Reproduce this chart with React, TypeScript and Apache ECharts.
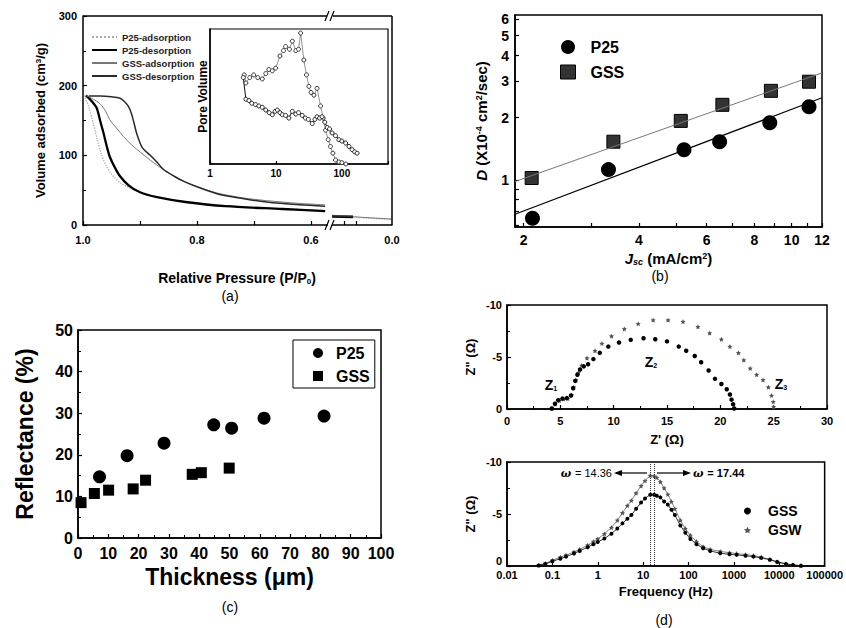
import { useEffect, useRef } from 'react';
import * as echarts from 'echarts';

const FONT = '"Liberation Sans", Arial, Helvetica, sans-serif';

// ---------- (a) N2 isotherms: [P/P0, volume] ----------
const P25_ADS = [[0.998,186],[0.99,170],[0.982,146],[0.975,123],[0.968,102],[0.96,86],[0.95,73],[0.935,61],[0.915,52],[0.89,44],[0.85,37],[0.8,31],[0.72,26],[0.65,23],[0.575,21]];
const P25_DES = [[0.995,186],[0.985,178],[0.976,168],[0.97,150],[0.964,132],[0.958,112],[0.953,98],[0.945,84],[0.935,70],[0.92,57],[0.9,47],[0.87,40],[0.82,33],[0.75,27],[0.65,23],[0.575,20]];
const GSS_ADS = [[0.995,186],[0.985,182],[0.97,174],[0.96,163],[0.953,151],[0.94,138],[0.929,127],[0.912,113],[0.9,105],[0.882,93],[0.865,83],[0.853,76],[0.824,63],[0.8,55],[0.765,46],[0.72,39],[0.678,35],[0.62,31],[0.575,29]];
const GSS_DES = [[0.99,185],[0.97,185],[0.95,184],[0.935,182],[0.927,177],[0.92,170],[0.915,160],[0.91,145],[0.906,132],[0.9,118],[0.895,110],[0.882,100],[0.87,90],[0.859,80],[0.84,70],[0.824,63],[0.8,55],[0.765,45],[0.72,38],[0.678,33],[0.62,29],[0.575,27]];
// after the axis break
const P25_ADS_LOW = [[0.1,13],[0.05,10.5],[0,8]];
const P25_DES_LOW = [[0.1,12],[0.065,11.5]];
const GSS_ADS_LOW = [[0.1,14],[0.05,11],[0,8.5]];
const GSS_DES_LOW = [[0.1,13],[0.065,12.5]];
// inset: pore size distribution [pore size, relative volume]
const PSD_A = [[3.3,0.66],[3.5,0.6],[4.0,0.64],[4.6,0.66],[5.3,0.64],[6.2,0.63],[7,0.67],[7.8,0.7],[8.8,0.69],[9.9,0.71],[11.5,0.8],[13,0.84],[14,0.87],[16,0.85],[17.7,0.91],[20,0.84],[22,0.85],[23.7,0.97],[26.5,0.77],[29,0.66],[31.6,0.575],[34,0.53],[37.7,0.51],[42,0.56],[47.5,0.43],[52,0.34],[56.6,0.25],[62,0.18],[67,0.13],[73,0.08],[80,0.03],[90,0.015],[100,0.01],[115,0.0]];
const PSD_B = [[3.2,0.64],[3.5,0.48],[3.9,0.47],[4.3,0.45],[4.9,0.44],[5.5,0.43],[6.2,0.42],[7,0.4],[7.9,0.38],[8.8,0.365],[9.7,0.39],[10.5,0.4],[11.5,0.38],[12.5,0.365],[14,0.36],[15.7,0.34],[17.7,0.39],[20,0.37],[22,0.38],[25,0.36],[28,0.34],[31,0.33],[35.5,0.3],[39,0.33],[42,0.35],[46,0.34],[50,0.35],[55,0.31],[60,0.27],[65,0.26],[71,0.23],[80,0.21],[90,0.18],[100,0.17],[114,0.155],[128,0.13],[143,0.106],[156,0.09],[170,0.08]];
const INSET_X_LABELS = [1, 10, 100];

// ---------- (b) diffusion coefficient vs Jsc ----------
const B_J_P25 = [2.11, 3.33, 5.24, 6.49, 8.77, 11.1];
const B_D_P25 = [0.65, 1.12, 1.40, 1.53, 1.89, 2.26];
const B_J_GSS = [2.1, 3.43, 5.14, 6.6, 8.83, 11.1];
const B_D_GSS = [1.02, 1.53, 1.93, 2.31, 2.70, 2.99];
const B_FIT_P25 = [[1.9, 0.68], [12, 2.5]];
const B_FIT_GSS = [[1.9, 0.98], [12, 3.3]];
const B_X_LABELS = [2, 4, 6, 8, 10, 12];
const B_Y_LABELS = [1, 2, 3, 4, 5, 6];

// ---------- (c) reflectance vs thickness ----------
const C_T_P25 = [7.1, 16.2, 28.4, 44.8, 50.7, 61.4, 81.2];
const C_R_P25 = [14.7, 19.8, 22.8, 27.2, 26.4, 28.8, 29.3];
const C_T_GSS = [1, 5.4, 10.1, 18.2, 22.3, 37.7, 40.7, 49.9];
const C_R_GSS = [8.5, 10.7, 11.5, 11.8, 13.9, 15.3, 15.7, 16.8];

// ---------- (d) impedance ----------
const NYQ_GSS = [[4.2,-0.05],[4.5,-0.5],[4.8,-0.85],[5.2,-1.0],[5.6,-1.05],[6.0,-1.3],[6.2,-2.0],[6.4,-2.7],[6.6,-3.3],[6.85,-3.8],[7.2,-4.1],[7.6,-4.3],[8.1,-4.8],[8.7,-5.4],[9.5,-6.0],[10.5,-6.4],[11.6,-6.65],[12.8,-6.8],[13.9,-6.7],[15,-6.5],[16.1,-6.0],[16.8,-5.6],[17.6,-5.1],[18.2,-4.5],[18.9,-3.7],[19.5,-2.9],[20.1,-2.4],[20.6,-1.9],[20.9,-1.4],[21.05,-0.9],[21.2,-0.45],[21.3,-0.05]];
const NYQ_GSW = [[4.2,-0.05],[4.5,-0.45],[4.9,-0.8],[5.3,-0.95],[5.7,-1.0],[6.05,-1.35],[6.25,-2.1],[6.45,-2.8],[6.7,-3.5],[7.0,-4.2],[7.5,-4.9],[8.25,-5.6],[8.9,-6.3],[9.8,-7.0],[11.0,-7.7],[12.3,-8.2],[13.7,-8.55],[15.1,-8.55],[16.5,-8.4],[17.9,-7.9],[19.0,-7.3],[20.1,-6.7],[20.9,-6.0],[21.7,-5.4],[22.2,-4.7],[22.8,-3.9],[23.4,-3.3],[24.0,-2.8],[24.5,-2.1],[24.8,-1.3],[24.96,-0.7],[25.0,-0.2]];
const FREQ = [0.05,0.07,0.1,0.15,0.2,0.3,0.4,0.6,0.8,1,1.4,2,2.7,3.5,4.5,5.5,7,9,11,14.36,17.44,20,24,29,35,42,50,66,85,110,150,210,300,500,800,1150,1800,2700,4000,6200,9000,14000,20000,30000];
const BODE_GSS = [-0.05,-0.2,-0.45,-0.7,-0.9,-1.2,-1.45,-1.8,-2.1,-2.3,-2.65,-3.1,-3.6,-4.1,-4.55,-4.9,-5.5,-6.1,-6.5,-6.85,-6.85,-6.75,-6.6,-6.2,-5.9,-5.4,-4.9,-3.9,-3.2,-2.6,-2.1,-1.7,-1.45,-1.23,-1.12,-1.07,-0.98,-0.9,-0.78,-0.6,-0.38,-0.2,-0.1,-0.03];
const BODE_GSW = [-0.08,-0.25,-0.55,-0.85,-1.05,-1.35,-1.6,-2.0,-2.35,-2.6,-3.1,-3.7,-4.4,-5.1,-5.8,-6.3,-7.0,-7.7,-8.2,-8.7,-8.65,-8.5,-8.1,-7.5,-6.9,-6.2,-5.5,-4.4,-3.6,-2.95,-2.35,-1.86,-1.6,-1.4,-1.28,-1.2,-1.1,-1.0,-0.85,-0.65,-0.42,-0.2,-0.1,-0.03];
const PEAK_FREQ = [14.36, 17.44];

const STAR = 'path://M0,-10L2.9,-4L9.5,-3.1L4.7,1.5L5.9,8.1L0,5L-5.9,8.1L-4.7,1.5L-9.5,-3.1L-2.9,-4Z';

function ax(o: any) {
  const base: any = {
    axisLine: { show: true, onZero: false, lineStyle: { color: '#000', width: 1.5 } },
    axisTick: { show: true, inside: true, length: 4, lineStyle: { color: '#000', width: 1.2 } },
    axisLabel: { color: '#000', fontFamily: FONT, fontWeight: 'bold', fontSize: 11 },
    splitLine: { show: false },
    nameLocation: 'middle',
    nameTextStyle: { color: '#000', fontFamily: FONT, fontWeight: 'bold', fontSize: 13 },
  };
  const r: any = { ...base, ...o };
  for (const k of ['axisLine', 'axisTick', 'axisLabel', 'nameTextStyle']) {
    if (o[k]) r[k] = { ...base[k], ...o[k] };
  }
  return r;
}

const rt = (size: number) => ({ fontSize: size, fontWeight: 'bold', fontFamily: FONT, color: '#000' });
const supS = (size: number) => ({ fontSize: size, fontWeight: 'bold', fontFamily: FONT, color: '#000', verticalAlign: 'top' });
const subS = (size: number) => ({ fontSize: size, fontWeight: 'bold', fontFamily: FONT, color: '#000', verticalAlign: 'bottom' });

const zip = (a: number[], b: number[]) => a.map((v, i) => [v, b[i]]);

const gridBorder = { show: true, borderColor: '#000', borderWidth: 1.5, backgroundColor: 'transparent' };

function txt(x: number, y: number, text: string, extra: any = {}) {
  return {
    type: 'text', x, y, z: 100,
    style: {
      text, fill: '#000', fontFamily: FONT, fontSize: 14,
      align: 'center', verticalAlign: 'middle', textAlign: 'center', textVerticalAlign: 'middle',
      ...extra,
    },
  };
}
function ln(x1: number, y1: number, x2: number, y2: number, w = 1.5) {
  return { type: 'line', z: 100, shape: { x1, y1, x2, y2 }, style: { stroke: '#000', lineWidth: w } };
}

const bodeY = () => ax({ gridIndex: 6, type: 'value', min: -10, max: 0, interval: 5, inverse: true,
  minorTick: { show: true, splitNumber: 2, length: 3 },
  axisLabel: { margin: 5, formatter: (v: number) => (v === 0 ? '{lo|0}' : String(v)),
    rich: { lo: { ...rt(11), padding: [0, 0, 10, 0] } } },
  name: 'Z" (Ω)', nameGap: 30 });

const option: any = {
  animation: false,
  backgroundColor: '#fff',
  grid: [
    { left: 83, top: 16, width: 245, height: 209 },
    { left: 332, top: 16, width: 60, height: 209 },
    { left: 210, top: 29, width: 178, height: 135, show: true, borderColor: '#000', borderWidth: 1.2, backgroundColor: '#fff' },
    { left: 515, top: 15, width: 307, height: 212, ...gridBorder },
    { left: 78, top: 330, width: 303, height: 208, ...gridBorder },
    { left: 507, top: 305, width: 320, height: 104, ...gridBorder },
    { left: 507, top: 462, width: 320, height: 104, ...gridBorder },
  ],
  xAxis: [
    ax({ gridIndex: 0, type: 'value', min: 0.57, max: 1.0, inverse: true,
      axisLabel: { customValues: [1.0, 0.8, 0.6], formatter: (v: number) => v.toFixed(1), margin: 9 },
      axisTick: { customValues: [1.0, 0.9, 0.8, 0.7, 0.6] } }),
    ax({ gridIndex: 1, type: 'value', min: 0, max: 0.1, inverse: true,
      axisLabel: { customValues: [0], formatter: () => '0.0', margin: 9 },
      axisTick: { customValues: [0.08, 0.06] } }),
    ax({ gridIndex: 2, type: 'log', logBase: 10, min: 1, max: 500,
      axisLabel: { customValues: INSET_X_LABELS, fontSize: 10, margin: 4 }, axisTick: { length: 3 } }),
    ax({ gridIndex: 3, type: 'log', logBase: 10, min: 1.9, max: 12,
      axisLabel: { customValues: B_X_LABELS, fontSize: 14, margin: 6 },
      axisTick: { customValues: [2, 3, 4, 5, 6, 7, 8, 9, 10, 11, 12] },
      name: '{i|J}{sub|sc}{t| (mA/cm}{sup|2}{t|)}', nameGap: 24,
      nameTextStyle: { rich: { t: rt(15), i: { ...rt(15), fontStyle: 'italic' }, sub: { ...subS(9), fontStyle: 'italic' }, sup: supS(9) } } }),
    ax({ gridIndex: 4, type: 'value', min: 0, max: 100, interval: 10,
      minorTick: { show: true, splitNumber: 2, length: 3 },
      axisLabel: { fontSize: 16, margin: 7 },
      name: 'Thickness (μm)', nameGap: 27, nameTextStyle: { fontSize: 23 } }),
    ax({ gridIndex: 5, type: 'value', min: 0, max: 30, interval: 5,
      minorTick: { show: true, splitNumber: 2, length: 3 },
      axisLabel: { margin: 6 },
      name: "Z' (Ω)", nameGap: 24 }),
    ax({ gridIndex: 6, type: 'log', logBase: 10, min: 0.01, max: 100000,
      axisLabel: { margin: 3, formatter: (v: number) => {
        const n = Math.round(Math.log10(v));
        return n < 0 ? v.toFixed(-n) : String(Math.round(v));
      } },
      name: 'Frequency (Hz)', nameGap: 19 }),
  ],
  yAxis: [
    ax({ gridIndex: 0, type: 'value', min: 0, max: 300, interval: 100,
      minorTick: { show: true, splitNumber: 2, length: 3 },
      axisLabel: { margin: 6 },
      name: '{t|Volume adsorbed (cm}{sup|3}{t|/g)}', nameGap: 36,
      nameTextStyle: { rich: { t: rt(13), sup: supS(8) } } }),
    { gridIndex: 1, type: 'value', min: 0, max: 300, show: false },
    ax({ gridIndex: 2, type: 'value', min: 0, max: 1,
      axisLabel: { show: false }, axisTick: { show: false },
      name: 'Pore Volume', nameGap: 1, nameTextStyle: { fontSize: 12 } }),
    ax({ gridIndex: 3, type: 'log', logBase: 10, min: 0.59, max: 6.3,
      axisLabel: { customValues: B_Y_LABELS, fontSize: 14, margin: 6 },
      axisTick: { customValues: [0.6, 0.7, 0.8, 0.9, 1, 2, 3, 4, 5, 6] },
      name: '{i|D}{t| (X10}{sup|-4}{t| cm}{sup|2}{t|/sec)}', nameGap: 26,
      nameTextStyle: { rich: { t: rt(15), i: { ...rt(15), fontStyle: 'italic' }, sup: supS(9) } } }),
    ax({ gridIndex: 4, type: 'value', min: 0, max: 50, interval: 10,
      minorTick: { show: true, splitNumber: 2, length: 3 },
      axisLabel: { fontSize: 16, margin: 5 },
      name: 'Reflectance (%)', nameGap: 42, nameTextStyle: { fontSize: 23 } }),
    ax({ gridIndex: 5, type: 'value', min: -10, max: 0, interval: 5, inverse: true,
      minorTick: { show: true, splitNumber: 2, length: 3 },
      axisLabel: { margin: 5 },
      name: 'Z" (Ω)', nameGap: 30 }),
    bodeY(),
  ],
  legend: [
    { selectedMode: false, orient: 'vertical', left: 86, top: 27, itemWidth: 25, itemHeight: 2, itemGap: 3,
      textStyle: { fontSize: 9.5, fontWeight: 'bold', fontFamily: FONT, color: '#222' },
      data: [
        { name: 'P25-adsorption', itemStyle: { color: '#aaa', opacity: 0 } },
        { name: 'P25-desorption', itemStyle: { color: '#000', opacity: 0 } },
        { name: 'GSS-adsorption', itemStyle: { color: '#777', opacity: 0 } },
        { name: 'GSS-desorption', itemStyle: { color: '#2a2a2a', opacity: 0 } },
      ] },
    { selectedMode: false, orient: 'vertical', left: 555, top: 34, itemWidth: 15, itemHeight: 14, itemGap: 9,
      textStyle: { fontSize: 16, fontWeight: 'bold', fontFamily: FONT, color: '#000', padding: [0, 0, 0, 10] },
      data: [
        { name: 'P25', icon: 'circle', itemStyle: { color: '#000', borderWidth: 0 } },
        { name: 'GSS', icon: 'rect', itemStyle: { color: '#333', borderColor: '#000', borderWidth: 1 } },
      ] },
    { selectedMode: false, orient: 'vertical', left: 293, top: 340, itemWidth: 10, itemHeight: 10, itemGap: 7,
      borderColor: '#000', borderWidth: 1, padding: [5, 5, 4, 20],
      textStyle: { fontSize: 16, fontWeight: 'bold', fontFamily: FONT, color: '#000', padding: [0, 0, 0, 8] },
      data: [
        { name: 'P25', icon: 'circle', itemStyle: { color: '#000', borderWidth: 0 } },
        { name: 'GSS', icon: 'rect', itemStyle: { color: '#000', borderWidth: 0 } },
      ] },
    { selectedMode: false, orient: 'vertical', left: 739, top: 499, itemWidth: 7, itemHeight: 7, itemGap: 5,
      textStyle: { fontSize: 14, fontWeight: 'bold', fontFamily: FONT, color: '#000', padding: [0, 0, 0, 12] },
      data: [
        { name: 'GSS', icon: 'circle', itemStyle: { color: '#000', borderWidth: 0 } },
        { name: 'GSW', icon: STAR, itemStyle: { color: '#555', borderWidth: 0 } },
      ] },
  ],
  series: [
    // (a)
    { name: 'P25-adsorption', type: 'line', xAxisIndex: 0, yAxisIndex: 0, data: P25_ADS, symbol: 'none', smooth: 0.3, lineStyle: { color: '#aaa', width: 1.3, type: 'dotted' }, itemStyle: { color: '#aaa' } },
    { name: 'P25-desorption', type: 'line', xAxisIndex: 0, yAxisIndex: 0, data: P25_DES, symbol: 'none', smooth: 0.3, lineStyle: { color: '#000', width: 2.3 }, itemStyle: { color: '#000' } },
    { name: 'GSS-adsorption', type: 'line', xAxisIndex: 0, yAxisIndex: 0, data: GSS_ADS, symbol: 'none', smooth: 0.3, lineStyle: { color: '#777', width: 1 }, itemStyle: { color: '#777' } },
    { name: 'GSS-desorption', type: 'line', xAxisIndex: 0, yAxisIndex: 0, data: GSS_DES, symbol: 'none', smooth: 0.3, lineStyle: { color: '#2a2a2a', width: 1.5 }, itemStyle: { color: '#2a2a2a' } },
    { name: 'P25-adsorption', type: 'line', xAxisIndex: 1, yAxisIndex: 1, data: P25_ADS_LOW, symbol: 'none', lineStyle: { color: '#aaa', width: 1.3, type: 'dotted' } },
    { name: 'P25-desorption', type: 'line', xAxisIndex: 1, yAxisIndex: 1, data: P25_DES_LOW, symbol: 'none', lineStyle: { color: '#000', width: 2.3 } },
    { name: 'GSS-adsorption', type: 'line', xAxisIndex: 1, yAxisIndex: 1, data: GSS_ADS_LOW, symbol: 'none', lineStyle: { color: '#777', width: 1 } },
    { name: 'GSS-desorption', type: 'line', xAxisIndex: 1, yAxisIndex: 1, data: GSS_DES_LOW, symbol: 'none', lineStyle: { color: '#2a2a2a', width: 1.5 } },
    { name: 'Pore volume A', type: 'line', xAxisIndex: 2, yAxisIndex: 2, data: PSD_A, symbol: 'circle', symbolSize: 4, lineStyle: { color: '#777', width: 0.8 }, itemStyle: { color: '#fff', borderColor: '#333', borderWidth: 1 } },
    { name: 'Pore volume B', type: 'line', xAxisIndex: 2, yAxisIndex: 2, data: PSD_B, symbol: 'circle', symbolSize: 4, lineStyle: { color: '#222', width: 1.1 }, itemStyle: { color: '#fff', borderColor: '#222', borderWidth: 1 } },
    // (b)
    { name: 'P25 fit', type: 'line', xAxisIndex: 3, yAxisIndex: 3, data: B_FIT_P25, symbol: 'none', lineStyle: { color: '#000', width: 1.2 } },
    { name: 'GSS fit', type: 'line', xAxisIndex: 3, yAxisIndex: 3, data: B_FIT_GSS, symbol: 'none', lineStyle: { color: '#777', width: 1 } },
    { name: 'P25', type: 'scatter', xAxisIndex: 3, yAxisIndex: 3, data: zip(B_J_P25, B_D_P25), symbol: 'circle', symbolSize: 15, itemStyle: { color: '#000', opacity: 1 } },
    { name: 'GSS', type: 'scatter', xAxisIndex: 3, yAxisIndex: 3, data: zip(B_J_GSS, B_D_GSS), symbol: 'rect', symbolSize: 13, itemStyle: { color: '#333', borderColor: '#000', borderWidth: 1, opacity: 1 } },
    // (c)
    { name: 'P25', type: 'scatter', xAxisIndex: 4, yAxisIndex: 4, data: zip(C_T_P25, C_R_P25), symbol: 'circle', symbolSize: 13, itemStyle: { color: '#000', opacity: 1 } },
    { name: 'GSS', type: 'scatter', xAxisIndex: 4, yAxisIndex: 4, data: zip(C_T_GSS, C_R_GSS), symbol: 'rect', symbolSize: 11, itemStyle: { color: '#000', opacity: 1 } },
    // (d) Nyquist
    { name: 'GSW', type: 'scatter', xAxisIndex: 5, yAxisIndex: 5, data: NYQ_GSW, symbol: STAR, symbolSize: 5, itemStyle: { color: '#555', opacity: 1 } },
    { name: 'GSS', type: 'scatter', xAxisIndex: 5, yAxisIndex: 5, data: NYQ_GSS, symbol: 'circle', symbolSize: 4.5, itemStyle: { color: '#000', opacity: 1 } },
    // (d) Bode
    { name: 'GSW', type: 'line', xAxisIndex: 6, yAxisIndex: 6, data: zip(FREQ, BODE_GSW), symbol: STAR, symbolSize: 5, showAllSymbol: true,
      lineStyle: { color: '#666', width: 0.8 }, itemStyle: { color: '#555' },
      markLine: { silent: true, symbol: ['none', 'none'], label: { show: false },
        lineStyle: { color: '#333', width: 1, type: 'dotted' },
        data: PEAK_FREQ.map((f) => ({ xAxis: f })) } },
    { name: 'GSS', type: 'line', xAxisIndex: 6, yAxisIndex: 6, data: zip(FREQ, BODE_GSS), symbol: 'circle', symbolSize: 4, showAllSymbol: true,
      lineStyle: { color: '#000', width: 0.8 }, itemStyle: { color: '#000' } },
  ],
  graphic: [
    // (a) frame top/right with axis break
    ln(83, 16, 327, 16), ln(333, 16, 392, 16), ln(392, 16, 392, 225),
    ln(325, 21, 329, 11, 1.2), ln(330, 21, 334, 11, 1.2),
    { type: 'rect', z: 99, shape: { x: 328, y: 221, width: 4, height: 8 }, style: { fill: '#fff' } },
    ln(325, 230, 329, 220, 1.2), ln(330, 230, 334, 220, 1.2),
    txt(237, 278, '{t|Relative Pressure (P/P}{sub|0}{t|)}', { rich: { t: rt(14), sub: subS(8) } }),
    txt(230, 296, '(a)', { fontSize: 14 }),
    txt(660, 276, '(b)', { fontSize: 14 }),
    txt(230, 607, '(c)', { fontSize: 14 }),
    txt(664, 620, '(d)', { fontSize: 14 }),
    // Nyquist labels
    txt(551, 385, '{z|Z}{s|1}', { rich: { z: rt(14), s: subS(7) } }),
    txt(651, 362, '{z|Z}{s|2}', { rich: { z: rt(14), s: subS(7) } }),
    txt(781, 384, '{z|Z}{s|3}', { rich: { z: rt(14), s: subS(7) } }),
    // peak frequency annotations
    txt(612, 473, '{w|ω} {t|= 14.36}', { align: 'right', textAlign: 'right', rich: { w: { ...rt(11), fontStyle: 'italic', fontFamily: 'DejaVu Serif' }, t: { fontSize: 11, fontFamily: FONT, color: '#000' } } }),
    ln(616, 473, 647, 473, 1.2),
    { type: 'polygon', z: 100, shape: { points: [[614, 473], [622, 470], [622, 476]] }, style: { fill: '#000' } },
    ln(657, 473, 686, 473, 1.2),
    { type: 'polygon', z: 100, shape: { points: [[691, 473], [683, 470], [683, 476]] }, style: { fill: '#000' } },
    txt(693, 473, '{w|ω} {t|= 17.44}', { align: 'left', textAlign: 'left', rich: { w: { ...rt(11), fontStyle: 'italic', fontFamily: 'DejaVu Serif' }, t: rt(11) } }),
  ],
};

export default function App() {
  const ref = useRef<HTMLDivElement>(null);
  useEffect(() => {
    document.body.style.margin = '0';
    const chart = echarts.init(ref.current!, null, { renderer: 'svg' });
    chart.setOption(option);
    return () => chart.dispose();
  }, []);
  return <div ref={ref} style={{ width: 846, height: 628, background: '#fff' }} />;
}
